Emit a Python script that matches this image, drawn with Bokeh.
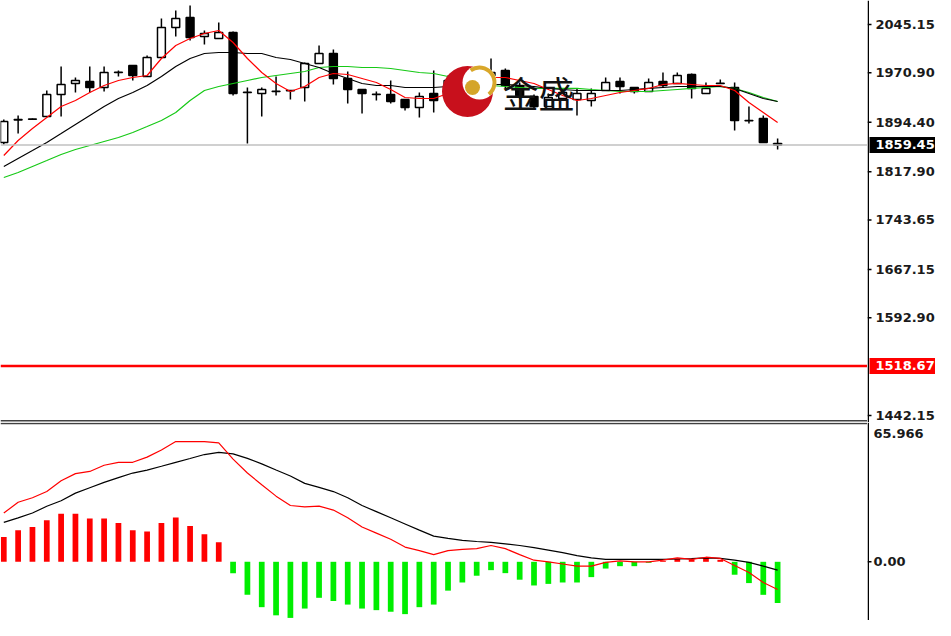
from bokeh.plotting import figure
from bokeh.layouts import column, row
from bokeh.models import Range1d, Span, ColumnDataSource
from bokeh.core.properties import value
from bokeh.embed import file_html
from bokeh.resources import INLINE

# ---------------- data ----------------
opens = [1863.2, 1898.0, 1899.4, 1903.3, 1937.2, 1954.1, 1957.2, 1948.0, 1971.1, 1981.9,
         1964.9, 1994.3, 2040.5, 2055.9, 2026.6, 2023.6, 2032.8, 1940.3, 1938.7, 1941.8,
         1943.4, 1948.0, 1985.0, 2000.4, 1961.9, 1944.9, 1937.2, 1937.2, 1929.5, 1917.1,
         1938.7, 1935.6, 1966.5, 1958.8, 1966.5, 1974.2, 1951.1, 1934.1, 1918.7, 1931.0,
         1929.5, 1927.9, 1943.4, 1957.2, 1948.0, 1941.8, 1957.2, 1954.1, 1968.0, 1938.7,
         1954.1, 1948.0, 1897.1, 1900.2, 1861.6]
highs = [1898.6, 1904.8, 1900.2, 1943.4, 1980.4, 1963.4, 1980.4, 1980.4, 1974.2, 1982.5,
         1997.3, 2054.4, 2066.7, 2074.5, 2035.9, 2048.2, 2034.3, 1948.0, 1948.0, 1964.9,
         1944.0, 1986.6, 2012.8, 2006.6, 1972.7, 1944.9, 1941.8, 1958.8, 1929.5, 1940.3,
         1974.2, 1966.5, 1974.2, 1974.2, 1992.7, 1977.3, 1955.7, 1937.2, 1938.7, 1943.4,
         1946.4, 1946.4, 1963.4, 1963.4, 1948.0, 1961.9, 1971.1, 1971.1, 1969.6, 1955.7,
         1960.3, 1955.7, 1918.7, 1904.8, 1869.3]
lows = [1860.1, 1877.0, 1898.6, 1903.3, 1903.3, 1940.3, 1940.3, 1941.8, 1964.9, 1958.8,
        1964.9, 1994.3, 2026.6, 2020.5, 2014.3, 2023.6, 1935.6, 1861.6, 1903.3, 1935.6,
        1929.5, 1926.4, 1985.0, 1952.6, 1923.3, 1907.9, 1927.9, 1923.3, 1912.5, 1901.7,
        1909.4, 1931.0, 1951.1, 1952.6, 1958.8, 1946.4, 1930.0, 1915.0, 1918.7, 1927.9,
        1904.8, 1918.7, 1943.4, 1938.7, 1938.7, 1941.8, 1948.0, 1954.1, 1931.0, 1938.7,
        1954.1, 1881.7, 1892.4, 1863.2, 1852.4]
closes = [1895.5, 1898.6, 1899.0, 1937.2, 1952.6, 1958.8, 1948.0, 1971.1, 1971.6, 1966.5,
          1994.3, 2040.5, 2054.4, 2025.1, 2031.3, 2032.8, 1938.7, 1940.8, 1944.9, 1942.3,
          1942.8, 1985.0, 2000.4, 1961.9, 1944.9, 1938.7, 1937.7, 1926.4, 1917.1, 1934.1,
          1927.9, 1958.8, 1958.8, 1966.5, 1971.1, 1951.1, 1935.6, 1918.7, 1932.6, 1940.3,
          1938.7, 1938.7, 1955.7, 1949.5, 1941.8, 1955.7, 1951.1, 1966.5, 1946.4, 1946.4,
          1954.6, 1897.1, 1896.6, 1863.2, 1859.45]

ma_fast = [1843.1, 1866.3, 1884.8, 1901.7, 1918.7, 1927.9, 1940.3, 1951.1, 1958.8, 1963.4,
           1966.5, 1992.7, 2012.8, 2023.6, 2031.3, 2035.9, 2017.4, 1992.7, 1971.1, 1954.2,
           1941.8, 1949.5, 1963.4, 1969.6, 1968.0, 1961.9, 1955.7, 1944.9, 1932.6, 1931.0,
           1931.0, 1938.7, 1948.0, 1955.7, 1963.4, 1963.4, 1958.8, 1954.2, 1944.9, 1935.7,
           1927.9, 1931.0, 1935.7, 1940.3, 1943.4, 1946.5, 1952.6, 1954.2, 1952.6, 1951.1,
           1951.1, 1943.4, 1924.9, 1909.4, 1894.0]
ma_mid = [1826.2, 1838.5, 1850.8, 1863.2, 1877.0, 1890.9, 1904.8, 1918.7, 1931.0, 1940.3,
          1951.1, 1965.0, 1980.4, 1992.7, 2000.4, 2002.0, 2002.0, 2000.4, 2000.4, 1994.3,
          1991.2, 1985.0, 1978.8, 1969.6, 1961.9, 1954.2, 1951.1, 1951.1, 1948.0, 1948.0,
          1948.0, 1949.5, 1951.1, 1952.6, 1952.6, 1952.6, 1951.1, 1949.5, 1946.5, 1944.9,
          1943.4, 1943.4, 1943.4, 1943.4, 1944.9, 1946.5, 1948.0, 1949.5, 1949.5, 1949.5,
          1949.5, 1946.5, 1938.7, 1931.0, 1926.4]
ma_slow = [1809.2, 1816.9, 1826.2, 1835.4, 1844.7, 1852.4, 1858.5, 1864.7, 1870.9, 1878.6,
           1887.8, 1897.1, 1909.4, 1927.9, 1943.4, 1949.5, 1954.2, 1958.8, 1963.4, 1966.5,
           1969.6, 1972.7, 1978.8, 1980.4, 1980.4, 1978.8, 1978.8, 1977.3, 1974.2, 1971.1,
           1969.6, 1965.0, 1960.3, 1955.7, 1951.1, 1949.5, 1948.0, 1946.5, 1946.5, 1946.5,
           1946.5, 1944.9, 1943.4, 1941.8, 1941.8, 1941.8, 1943.4, 1944.9, 1946.5, 1948.0,
           1949.5, 1946.5, 1940.3, 1932.6, 1926.4]

macd_hist = [12.4, 15.9, 17.5, 20.9, 24.2, 24.2, 21.7, 21.7, 19.5, 15.9,
             15.2, 19.5, 22.2, 18.0, 13.9, 9.8, -5.7, -16.6, -22.8, -26.9,
             -28.2, -23.5, -18.1, -19.7, -21.5, -23.5, -24.3, -25.1, -26.3, -22.8,
             -21.5, -14.5, -10.4, -7.0, -4.2, -5.7, -9.0, -11.9, -11.1, -10.4,
             -10.4, -7.7, -3.4, -2.2, -2.2, -0.5, 0.5, 1.5, 1.2, 2.0,
             1.0, -6.5, -10.7, -16.6, -20.7]
macd_main = [24.5, 29.9, 32.2, 35.3, 40.7, 44.3, 45.4, 48.5, 50.0, 50.0,
             52.6, 56.2, 60.4, 60.4, 60.4, 59.8, 51.6, 44.6, 38.7, 33.0,
             28.3, 27.6, 28.0, 26.0, 22.1, 17.5, 14.4, 11.3, 7.4, 5.6,
             3.6, 5.6, 6.2, 6.6, 8.2, 6.6, 3.6, 0.8, 0.0, -1.1,
             -2.2, -2.2, -0.3, 0.5, 0.0, 0.0, 0.8, 2.0, 1.2, 2.3,
             1.7, -1.9, -5.4, -10.4, -13.9]
macd_signal = [19.8, 22.1, 24.5, 27.9, 30.7, 34.5, 37.2, 39.9, 42.3, 44.6,
               46.1, 48.0, 50.0, 51.9, 53.9, 55.0, 54.2, 52.0, 49.2, 46.1,
               43.1, 39.4, 37.4, 35.3, 32.2, 28.3, 25.2, 22.1, 19.0, 15.9,
               12.9, 11.8, 10.8, 10.2, 9.8, 9.0, 8.2, 7.1, 5.9, 4.6,
               3.1, 2.0, 1.2, 1.2, 1.2, 1.2, 1.2, 1.4, 1.6, 2.0,
               1.7, 0.8, -0.3, -2.2, -4.2]

price_ticks = [2045.15, 1970.90, 1894.40, 1817.90, 1743.65, 1667.15, 1592.90, 1442.15]
price_tick_labels = ["2045.15", "1970.90", "1894.40", "1817.90", "1743.65", "1667.15", "1592.90", "1442.15"]
current_price = 1859.45
level_price = 1518.67
macd_ticks = [0.0]
macd_tick_labels = ["0.00"]
macd_top_value = 65.966
logo_text = "金盛"

# ---------------- layout constants ----------------
MAIN_W = 867
AXIS_W = 68
TOP_H = 422
BOT_H = 198
PX_PER_BAR = 14.33
X0 = -0.23
PRICE_HI = 2082.16
PRICE_LO = PRICE_HI - 1.5422 * TOP_H
MACD_LO, MACD_HI = -29.5, 70.0
FONT = "DejaVu Sans"
LBL_SIZE = "13px"

n = len(opens)
idx = list(range(n))
src = ColumnDataSource(dict(
    x=idx, o=opens, h=highs, l=lows, c=closes,
    top=[max(a, b) for a, b in zip(opens, closes)],
    bot=[min(a, b) for a, b in zip(opens, closes)],
    fill=["white" if c >= o else "black" for o, c in zip(opens, closes)],
))

xr = Range1d(X0, X0 + MAIN_W / PX_PER_BAR)
yr_price = Range1d(PRICE_LO, PRICE_HI)
yr_macd = Range1d(MACD_LO, MACD_HI)


def bare(fig):
    fig.grid.visible = False
    fig.outline_line_color = None
    fig.background_fill_color = "white"
    fig.border_fill_color = "white"
    return fig


def mk(width, height, x_range, y_range):
    return bare(figure(width=width, height=height, x_range=x_range, y_range=y_range,
                       x_axis_location=None, y_axis_location=None,
                       output_backend="svg", toolbar_location=None,
                       min_border_left=0, min_border_right=0,
                       min_border_top=0, min_border_bottom=0))


# ---------------- price panel ----------------
p = mk(MAIN_W, TOP_H, xr, yr_price)
p.add_layout(Span(location=current_price, dimension="width", line_color="#c0c0c0", line_width=1.5))
p.add_layout(Span(location=level_price, dimension="width", line_color="#ff0000", line_width=2.5))
p.add_layout(Span(location=PRICE_HI - 420.3 * (PRICE_HI - PRICE_LO) / TOP_H, dimension="width",
                  line_color="#404040", line_width=1.6))

p.segment(x0="x", y0="l", x1="x", y1="h", source=src, line_color="black", line_width=1.5)
p.vbar(x="x", width=0.55, top="top", bottom="bot", source=src,
       fill_color="fill", line_color="black", line_width=1.5)

p.line(idx, ma_slow, line_color="#16c916", line_width=1.2)
p.line(idx, ma_mid, line_color="black", line_width=1.2)
p.line(idx, ma_fast, line_color="#ff0000", line_width=1.2)


# watermark logo (decoration, placed in frame pixels)
def sx(px):
    return X0 + px / PX_PER_BAR


def sy(py):
    return PRICE_HI - py * (PRICE_HI - PRICE_LO) / TOP_H


p.scatter([sx(467)], [sy(91)], size=51, marker="circle", fill_color="#c8101c", line_color=None)
p.scatter([sx(479)], [sy(82)], size=34, marker="circle", fill_color="white", line_color=None)
p.annular_wedge([sx(479)], [sy(82)], inner_radius=13, outer_radius=17,
                inner_radius_units="screen", outer_radius_units="screen",
                start_angle=-0.9, end_angle=2.2, fill_color="#d9a72a", line_color=None)
p.scatter([sx(472)], [sy(87)], size=15, marker="circle", fill_color="#d4a52a", line_color=None)
p.text([sx(502)], [sy(91)], text=[logo_text], text_font=value("Noto Sans CJK SC"),
       text_font_size="36px", text_color="#111111", text_baseline="middle", text_align="left")

# ---------------- price scale (right) ----------------
a = mk(AXIS_W, TOP_H, Range1d(0, AXIS_W), yr_price)
a.add_layout(Span(location=0.75, dimension="height", line_color="black", line_width=1.5))
a.segment(x0=[0] * len(price_ticks), y0=price_ticks, x1=[4] * len(price_ticks), y1=price_ticks,
          line_color="black", line_width=1.5)
a.text(x=[8] * len(price_ticks), y=price_ticks, text=price_tick_labels,
       text_font=value(FONT), text_font_size=LBL_SIZE, text_font_style="bold",
       text_color="#1a1a1a", text_baseline="middle", text_align="left")
for price, colr in ((current_price, "black"), (level_price, "#ff0000")):
    a.rect(x=[2 + (AXIS_W - 2) / 2], y=[price], width=AXIS_W - 2, height=16, height_units="screen",
           fill_color=colr, line_color=None)
    a.text(x=[8], y=[price], text=[f"{price:.2f}"], text_font=value(FONT), text_font_size=LBL_SIZE,
           text_font_style="bold", text_color="white", text_baseline="middle", text_align="left")

# ---------------- MACD panel ----------------
q = mk(MAIN_W, BOT_H, xr, yr_macd)
q.add_layout(Span(location=MACD_HI - 1.0 * (MACD_HI - MACD_LO) / BOT_H, dimension="width",
                  line_color="#404040", line_width=1.6))
hsrc = ColumnDataSource(dict(x=idx, h=macd_hist,
                             col=["#ff0000" if v >= 0 else "#00ee00" for v in macd_hist]))
q.vbar(x="x", width=0.4, top="h", bottom=0, source=hsrc, fill_color="col", line_color=None)
q.line(idx, macd_signal, line_color="black", line_width=1.2)
q.line(idx, macd_main, line_color="#ff0000", line_width=1.2)

b = mk(AXIS_W, BOT_H, Range1d(0, AXIS_W), yr_macd)
b.add_layout(Span(location=0.75, dimension="height", line_color="black", line_width=1.5))
b.segment(x0=[0] * len(macd_ticks), y0=macd_ticks, x1=[4] * len(macd_ticks), y1=macd_ticks,
          line_color="black", line_width=1.5)
b.text(x=[6] * len(macd_ticks), y=macd_ticks, text=macd_tick_labels,
       text_font=value(FONT), text_font_size=LBL_SIZE, text_font_style="bold",
       text_color="#1a1a1a", text_baseline="middle", text_align="left")
b.text(x=[6], y=[MACD_HI - 11 * (MACD_HI - MACD_LO) / BOT_H], text=[f"{macd_top_value:.3f}"],
       text_font=value(FONT), text_font_size=LBL_SIZE, text_font_style="bold",
       text_color="#1a1a1a", text_baseline="middle", text_align="left")

layout = column(row(p, a, spacing=0), row(q, b, spacing=0), spacing=0)
open("out.html", "w").write(file_html(layout, INLINE))
